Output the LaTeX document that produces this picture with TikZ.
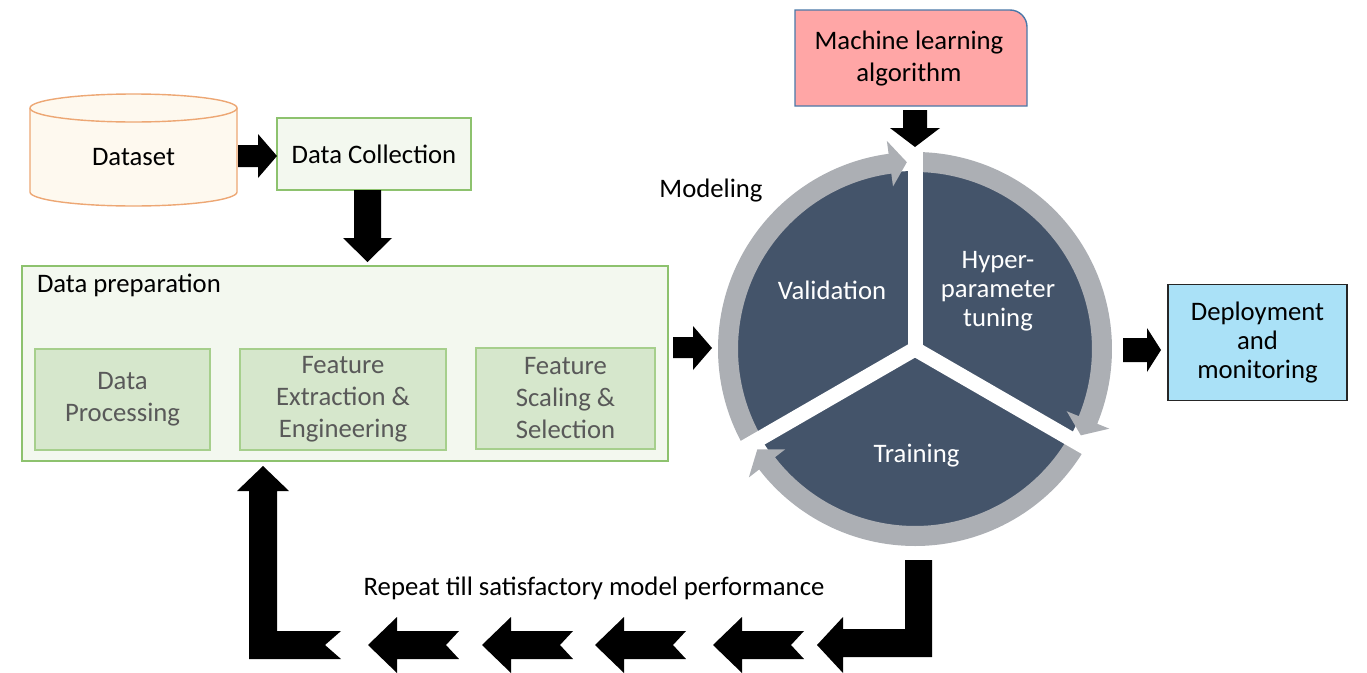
\documentclass[tikz,border=0pt]{standalone}
\usepackage{fontspec}
\setmainfont{Carlito}
\definecolor{ringgray}{HTML}{ACAFB4}
\definecolor{piecol}{HTML}{44546A}
\definecolor{prepfill}{HTML}{F3F8EF}
\definecolor{prepline}{HTML}{8DC26E}
\definecolor{subfill}{HTML}{D6E7CC}
\definecolor{subline}{HTML}{A6CF8C}
\definecolor{subtext}{HTML}{595959}
\definecolor{cylfill}{HTML}{FEF9EF}
\definecolor{cylline}{HTML}{EDA774}
\definecolor{mlfill}{HTML}{FFA6A6}
\definecolor{mlline}{HTML}{4A78A8}
\definecolor{depfill}{HTML}{AAE1F7}
\begin{document}
\begin{tikzpicture}[x=0.02cm,y=-0.02cm,
  txt/.style={font=\fontsize{15.2}{18.2}\selectfont, align=center, inner sep=0pt, outer sep=0pt},
  greenbox/.style={txt, draw=prepline, fill=prepfill, line width=0.8pt},
  subbox/.style={txt, draw=subline, fill=subfill, line width=0.8pt, text=subtext},
  blk/.style={fill=black},
  ringseg/.style={fill=ringgray},
  sep/.style={draw=white, line width=0.3cm}]
\useasboundingbox (0,0) rectangle (1367,673);

% ---- Dataset cylinder
\fill[cylfill] (30,108) -- (30,192) arc[start angle=180,end angle=0,x radius=103.5,y radius=14] -- (237,108) arc[start angle=0,end angle=-180,x radius=103.5,y radius=14] -- cycle;
\draw[cylline, line width=0.8pt] (30,108) -- (30,192) arc[start angle=180,end angle=0,x radius=103.5,y radius=14] -- (237,108);
\draw[cylline, fill=cylfill, line width=0.8pt] (133.5,108) ellipse[x radius=103.5, y radius=14];
\node[txt] (dataset) at (133.5,157) {Dataset};

% ---- Data collection
\node[greenbox, minimum width=3.88cm, minimum height=1.44cm] (datacoll) at (374,154) {Data Collection};

% ---- Data preparation
\node[greenbox, minimum width=12.92cm, minimum height=3.9cm] (dataprep) at (345,363.5) {};
\node[txt, anchor=base west] (preptitle) at (37,292) {Data preparation};
\node[subbox, minimum width=3.5cm, minimum height=2.02cm] (proc) at (122.5,399.5) {Data\\Processing};
\node[subbox, minimum width=4.12cm, minimum height=2.02cm] (extr) at (343,399.5) {Feature\\Extraction \&\\Engineering};
\node[subbox, minimum width=3.58cm, minimum height=2.02cm] (scal) at (565.5,398.5) {Feature\\Scaling \&\\Selection};

% ---- Machine learning algorithm
\draw[draw=mlline, fill=mlfill, line width=0.8pt] (795,106) -- (795,10) -- (1010,10) arc[start angle=-90,end angle=0,radius=17] -- (1027,106) -- cycle;
\node[txt] (mla) at (909,59) {Machine learning\\algorithm};

% ---- Deployment
\node[txt, draw=black!85, fill=depfill, line width=0.8pt, minimum width=3.58cm, minimum height=2.32cm,
      font=\fontsize{15.2}{16.6}\selectfont] (deploy) at (1257.5,342.5) {Deployment\\and\\monitoring};

% ---- Modeling cycle
\node[txt] (modeling) at (711,191) {Modeling};
\begin{scope}[shift={(915,349)}, yscale=-1]
  \fill[piecol] (0,0) circle[radius=178];
  \fill[ringseg] (210:197) arc[start angle=210,end angle=97.7,radius=197] -- (97.7:210) -- (92.5:187) -- (97.7:164) -- (97.7:177) arc[start angle=97.7,end angle=210,radius=177] -- cycle;
  \fill[ringseg] (90:197) arc[start angle=90,end angle=-22.3,radius=197] -- (-22.3:210) -- (-27.5:187) -- (-22.3:164) -- (-22.3:177) arc[start angle=-22.3,end angle=90,radius=177] -- cycle;
  \fill[ringseg] (-30:197) arc[start angle=-30,end angle=-142.3,radius=197] -- (-142.3:210) -- (-147.5:187) -- (-142.3:164) -- (-142.3:177) arc[start angle=-142.3,end angle=-30,radius=177] -- cycle;
  \draw[sep] (0,0) -- (90:204);
  \draw[sep] (0,0) -- (210:204);
  \draw[sep] (0,0) -- (330:204);
\end{scope}
\node[txt, text=white] (valid) at (832,290) {Validation};
\node[txt, text=white, font=\fontsize{15.2}{16.4}\selectfont] (hyper) at (998,291) {Hyper-\\parameter\\tuning};
\node[txt, text=white] (train) at (916.5,456) {Training};

% ---- Block arrows
\fill[blk] (238,145) -- (258,145) -- (258,134) -- (277,156) -- (258,178) -- (258,167) -- (238,167) -- cycle;
\fill[blk] (354,190) -- (381,190) -- (381,238) -- (392,238) -- (367.5,262) -- (343,238) -- (354,238) -- cycle;
\fill[blk] (673,337) -- (693,337) -- (693,326) -- (712,348) -- (693,370) -- (693,358) -- (673,358) -- cycle;
\fill[blk] (903,110) -- (927,110) -- (927,128) -- (940,128) -- (915,147) -- (890,128) -- (903,128) -- cycle;
\fill[blk] (1123,338) -- (1147,338) -- (1147,328) -- (1161,350) -- (1147,372) -- (1147,362) -- (1123,362) -- cycle;

% ---- Feedback loop
\fill[blk] (817,645) -- (843,617) -- (843,629) -- (905,629) -- (905,560) -- (932,560) -- (932,657) -- (843,657) -- (843,673) -- cycle;
\foreach \t in {368,482,595,713}{
  \fill[blk] (\t,645) -- (\t+29,617) -- (\t+29,631) -- (\t+91,631) -- (\t+78,645) -- (\t+91,659) -- (\t+29,659) -- (\t+29,673) -- cycle;
}
\fill[blk] (263,466) -- (289,491) -- (277,491) -- (277,631) -- (341,631) -- (325,645) -- (341,659) -- (249,659) -- (249,491) -- (237,491) -- cycle;
\node[txt] (repeat) at (594,588) {Repeat till satisfactory model performance};
\end{tikzpicture}
\end{document}
